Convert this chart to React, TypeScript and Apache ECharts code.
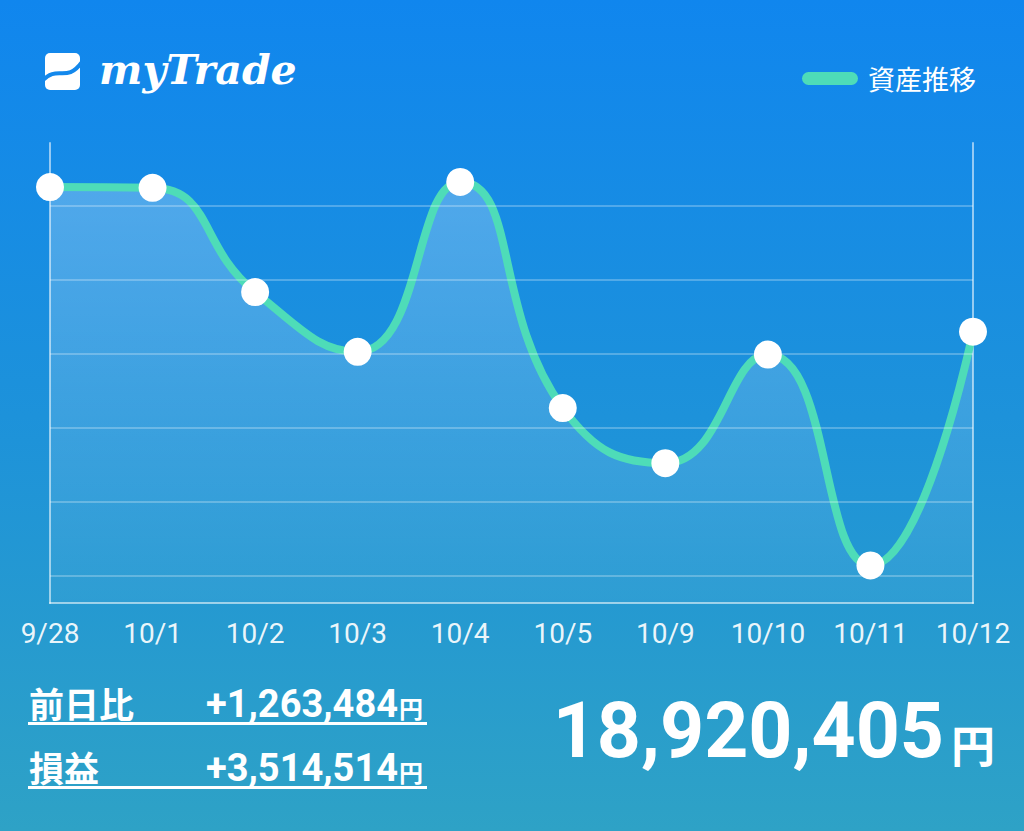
import React, { useEffect, useRef } from "react";
import * as echarts from "echarts";

const categories = ["9/28", "10/1", "10/2", "10/3", "10/4", "10/5", "10/9", "10/10", "10/11", "10/12"];
const assetValues = [19702000, 19698000, 19135000, 18812000, 19730000, 18508000, 18210000, 18797000, 17656921, 18920405];
const gridLineValues = [17600000, 18000000, 18400000, 18800000, 19200000, 19600000];
const legendName = "資産推移";
const dayChangeLabel = "前日比";
const dayChangeValue = "+1,263,484";
const profitLabel = "損益";
const profitValue = "+3,514,514";
const totalValue = "18,920,405";
const yen = "円";

const Y_MIN = 17454000;
const Y_MAX = 19940500;

export default function App() {
  const ref = useRef<HTMLDivElement>(null);
  useEffect(() => {
    if (!ref.current) return;
    const chart = echarts.init(ref.current, null, { renderer: "svg" });
    const axisColor = "rgba(255,255,255,0.55)";
    const lineColor = "#4edcb8";
    const cjk = '"Noto Sans CJK JP", sans-serif';
    const option: any = {
      animation: false,
      backgroundColor: new echarts.graphic.LinearGradient(0, 0, 0, 1, [
        { offset: 0, color: "#1086ee" },
        { offset: 0.5, color: "#1d92da" },
        { offset: 1, color: "#2ea2c6" },
      ]),
      grid: { left: 50, right: 51, top: 143, bottom: 228 },
      legend: {
        right: 43,
        top: 60,
        itemWidth: 56,
        itemHeight: 13,
        itemGap: 10,
        data: [
          {
            name: legendName,
            icon: "path://M6.5,0 H49.5 A6.5,6.5 0 0 1 49.5,13 H6.5 A6.5,6.5 0 0 1 6.5,0 Z",
            itemStyle: { color: lineColor, borderWidth: 0 },
          },
        ],
        textStyle: { color: "#ffffff", fontSize: 27, fontFamily: cjk, padding: [0, 0, 0, 5] },
      },
      xAxis: {
        type: "category",
        data: categories,
        boundaryGap: false,
        axisLine: { show: true, lineStyle: { color: axisColor, width: 2 } },
        axisTick: { show: false },
        splitLine: { show: false },
        axisLabel: {
          color: "rgba(255,255,255,0.92)",
          fontSize: 28,
          fontFamily: "Roboto, sans-serif",
          margin: 16,
          interval: 0,
        },
      },
      yAxis: [
        {
          type: "value",
          min: Y_MIN,
          max: Y_MAX,
          position: "left",
          axisLine: { show: true, lineStyle: { color: axisColor, width: 2 } },
          axisTick: { show: false },
          axisLabel: { show: false },
          splitLine: { show: false },
        },
        {
          type: "value",
          min: Y_MIN,
          max: Y_MAX,
          position: "right",
          axisLine: { show: true, lineStyle: { color: axisColor, width: 2 } },
          axisTick: { show: false },
          axisLabel: { show: false },
          splitLine: { show: false },
        },
      ],
      series: [
        {
          name: "grid",
          type: "line",
          data: [],
          z: 1,
          silent: true,
          markLine: {
            silent: true,
            symbol: ["none", "none"],
            label: { show: false },
            lineStyle: { color: "rgba(255,255,255,0.25)", type: "solid", width: 2 },
            data: gridLineValues.map((v) => ({ yAxis: v })),
          },
        },
        {
          name: legendName,
          type: "line",
          data: assetValues,
          z: 3,
          smooth: 0.5,
          symbol: "circle",
          symbolSize: 28,
          showSymbol: true,
          lineStyle: { color: lineColor, width: 8 },
          itemStyle: { color: "#ffffff", borderWidth: 0 },
          areaStyle: {
            color: new echarts.graphic.LinearGradient(0, 0, 0, 1, [
              { offset: 0, color: "rgba(255,255,255,0.36)" },
              { offset: 1, color: "rgba(255,255,255,0.06)" },
            ]),
          },
        },
      ],
      graphic: [
        { type: "rect", shape: { x: 45, y: 53, width: 35, height: 37, r: 5 }, style: { fill: "#ffffff" } },
        {
          type: "bezierCurve",
          shape: { x1: 42, y1: 81, x2: 82, y2: 62, cpx1: 58, cpy1: 64, cpx2: 66, cpy2: 84 },
          style: { stroke: "#1388ec", lineWidth: 4, fill: "none" },
        },
        {
          type: "text",
          x: 99,
          y: 70,
          style: {
            text: "myTrade",
            font: 'italic bold 41px "DejaVu Serif", serif',
            fill: "#ffffff",
            verticalAlign: "middle",
          },
        },
        {
          type: "text",
          x: 29,
          y: 702,
          style: { text: dayChangeLabel, font: "bold 35px " + cjk, fill: "#ffffff", verticalAlign: "middle" },
        },
        {
          type: "text",
          x: 398,
          y: 704,
          style: { text: dayChangeValue, font: "bold 38px Roboto, sans-serif", fill: "#ffffff", align: "right", verticalAlign: "middle" },
        },
        {
          type: "text",
          x: 399,
          y: 707,
          style: { text: yen, font: "bold 24px " + cjk, fill: "#ffffff", verticalAlign: "middle" },
        },
        { type: "rect", shape: { x: 28, y: 722, width: 399, height: 3 }, style: { fill: "#ffffff" } },
        {
          type: "text",
          x: 29,
          y: 766,
          style: { text: profitLabel, font: "bold 35px " + cjk, fill: "#ffffff", verticalAlign: "middle" },
        },
        {
          type: "text",
          x: 398,
          y: 768,
          style: { text: profitValue, font: "bold 38px Roboto, sans-serif", fill: "#ffffff", align: "right", verticalAlign: "middle" },
        },
        {
          type: "text",
          x: 399,
          y: 771,
          style: { text: yen, font: "bold 24px " + cjk, fill: "#ffffff", verticalAlign: "middle" },
        },
        { type: "rect", shape: { x: 28, y: 786, width: 399, height: 3 }, style: { fill: "#ffffff" } },
        {
          type: "text",
          x: 944,
          y: 731,
          style: { text: totalValue, font: "bold 77px Roboto, sans-serif", fill: "#ffffff", align: "right", verticalAlign: "middle" },
        },
        {
          type: "text",
          x: 951,
          y: 744,
          style: { text: yen, font: "bold 44px " + cjk, fill: "#ffffff", verticalAlign: "middle" },
        },
      ],
    };
    chart.setOption(option);
    return () => chart.dispose();
  }, []);
  return (
    <div
      ref={ref}
      style={{ position: "absolute", left: 0, top: 0, width: 1024, height: 831 }}
    />
  );
}
